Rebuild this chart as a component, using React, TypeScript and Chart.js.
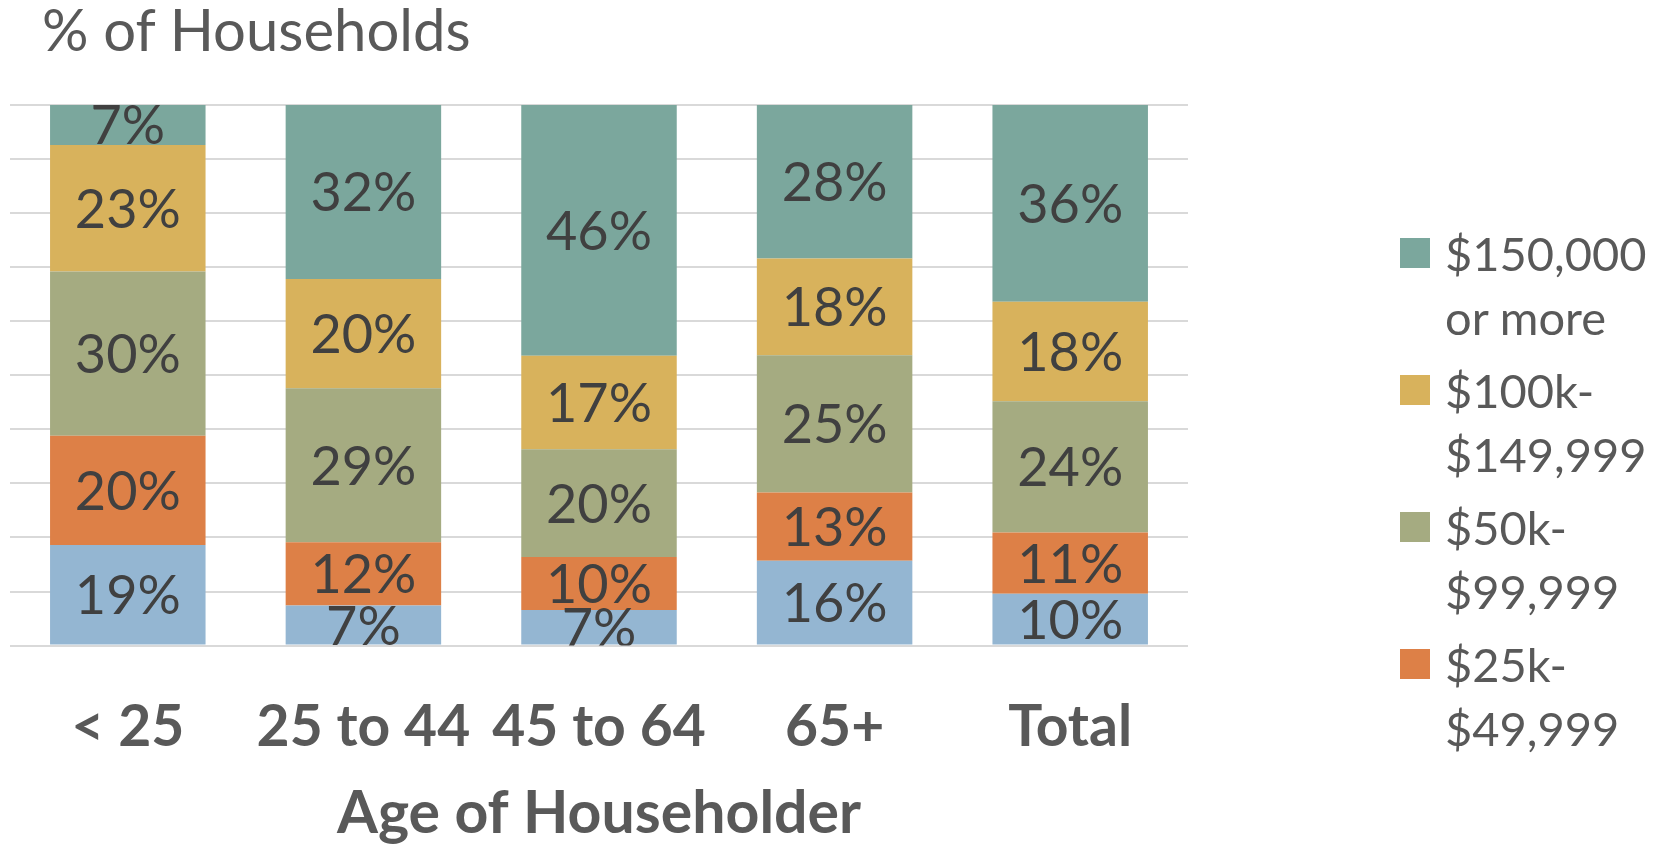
import React, { useEffect, useRef } from "react";
import { Chart, registerables } from "chart.js";

Chart.register(...registerables);

const categories = ["< 25", "25 to 44", "45 to 64", "65+", "Total"];
const seriesNames = [
  "Under $25k",
  "$25k-$49,999",
  "$50k-$99,999",
  "$100k-$149,999",
  "$150,000 or more",
];
const under25k = [18.6, 7.4, 6.6, 15.7, 9.6];
const k25to50 = [20.2, 11.7, 9.8, 12.6, 11.3];
const k50to100 = [30.4, 28.5, 19.9, 25.4, 24.3];
const k100to150 = [23.4, 20.2, 17.3, 17.9, 18.4];
const k150plus = [7.4, 32.2, 46.4, 28.4, 36.4];
const seriesColors = ["#94B6D2", "#DD8047", "#A5AB81", "#D8B25C", "#7BA79D"];
const legendItems = [
  { color: "#7BA79D", lines: ["$150,000", "or more"] },
  { color: "#D8B25C", lines: ["$100k-", "$149,999"] },
  { color: "#A5AB81", lines: ["$50k-", "$99,999"] },
  { color: "#DD8047", lines: ["$25k-", "$49,999"] },
];

const FONT = "Lato, 'Open Sans', sans-serif";

const segmentLabels = {
  id: "segmentLabels",
  afterDatasetsDraw(chart: any) {
    const { ctx, chartArea } = chart;
    ctx.save();
    ctx.beginPath();
    ctx.rect(chartArea.left, chartArea.top, chartArea.right - chartArea.left, chartArea.bottom - chartArea.top);
    ctx.clip();
    const size = 54;
    ctx.font = `${size}px ${FONT}`;
    ctx.fillStyle = "#404040";
    ctx.textAlign = "center";
    ctx.textBaseline = "alphabetic";
    chart.data.datasets.forEach((ds: any, i: number) => {
      const meta = chart.getDatasetMeta(i);
      meta.data.forEach((bar: any, j: number) => {
        const v = ds.data[j];
        const p = bar.getProps(["x", "y", "base"], true);
        const cy = (p.y + p.base) / 2;
        ctx.fillText(Math.round(v) + "%", p.x, cy + size * 0.36);
      });
    });
    ctx.restore();
  },
};

export default function App() {
  const ref = useRef<HTMLCanvasElement>(null);
  useEffect(() => {
    const values = [under25k, k25to50, k50to100, k100to150, k150plus];
    const chart = new Chart(ref.current!, {
      type: "bar",
      data: {
        labels: categories,
        datasets: values.map((d, i) => ({
          label: seriesNames[i],
          data: d,
          backgroundColor: seriesColors[i],
          borderWidth: 0,
          barPercentage: 0.66,
          categoryPercentage: 1,
        })),
      },
      options: {
        animation: false,
        responsive: false,
        maintainAspectRatio: false,
        layout: { padding: { left: 10, right: 465, top: 105, bottom: 4 } },
        plugins: {
          legend: { display: false },
          title: { display: false },
          tooltip: { enabled: false },
        },
        scales: {
          x: {
            stacked: true,
            grid: { display: false, drawTicks: false },
            border: { display: false },
            ticks: {
              color: "#595959",
              font: { family: FONT, size: 57, weight: "bold", lineHeight: 1.2 },
              padding: 48,
              maxRotation: 0,
              autoSkip: false,
            },
            title: {
              display: true,
              text: "Age of Householder",
              color: "#595959",
              font: { family: FONT, size: 59, weight: "bold", lineHeight: "8px" },
              padding: { top: 0, bottom: 24 },
            },
          },
          y: {
            stacked: true,
            min: 0,
            max: 100,
            grid: { color: "#D9D9D9", lineWidth: 2, drawTicks: false },
            border: { display: false },
            ticks: { display: false, stepSize: 10 },
          },
        },
      },
      plugins: [segmentLabels],
    });
    return () => chart.destroy();
  }, []);

  return (
    <div style={{ position: "fixed", left: 0, top: 0, width: 1653, height: 846, background: "#fff", overflow: "hidden" }}>
      <canvas ref={ref} width={1653} height={846} style={{ position: "absolute", left: 0, top: 0 }} />
      <div
        style={{
          position: "absolute",
          left: 42,
          top: 0,
          fontFamily: FONT,
          fontSize: 58,
          lineHeight: "58px",
          color: "#595959",
          whiteSpace: "nowrap",
        }}
      >
        % of Households
      </div>
      <div style={{ position: "absolute", left: 1400, top: 221, fontFamily: FONT, fontSize: 47, color: "#595959" }}>
        {legendItems.map((it, i) => (
          <div key={i} style={{ position: "relative", height: 128, marginBottom: 9 }}>
            <div style={{ position: "absolute", left: 0, top: 17, width: 30, height: 30, background: it.color }} />
            <div style={{ position: "absolute", left: 45, top: 0, lineHeight: "64px", whiteSpace: "nowrap" }}>
              {it.lines.map((l, k) => (
                <div key={k}>{l}</div>
              ))}
            </div>
          </div>
        ))}
      </div>
    </div>
  );
}
